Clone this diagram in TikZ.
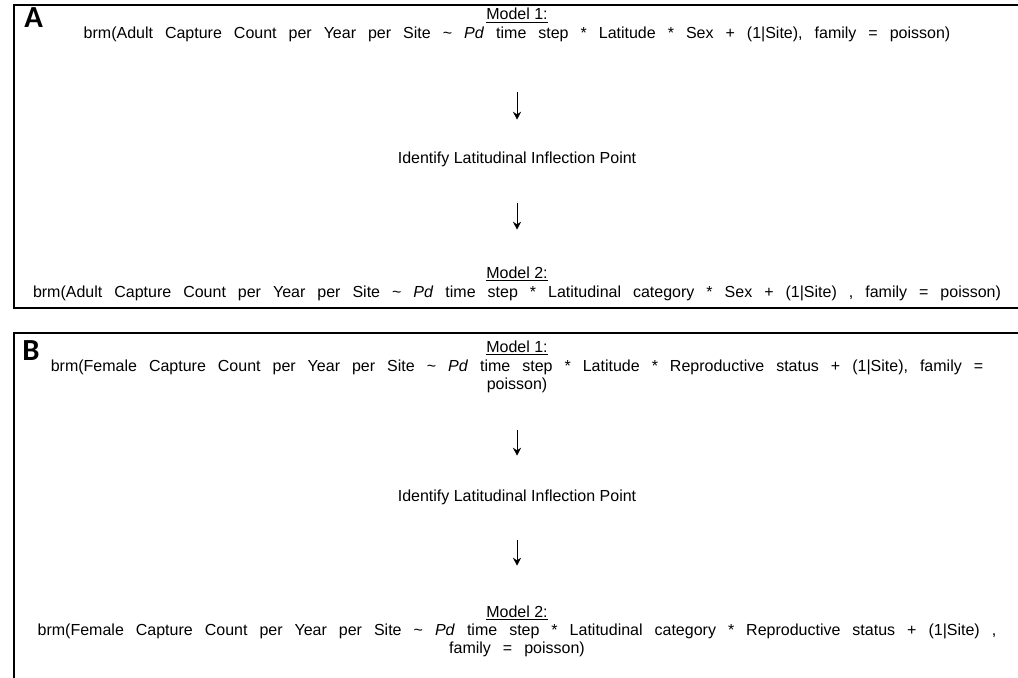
\documentclass[tikz,border=0pt]{standalone}
\usepackage{fontspec}
\setmainfont{Liberation Sans}
\newfontfamily\formulafont[WordSpace=2.7]{Liberation Sans}
\newfontfamily\panelfont{Carlito}
\usetikzlibrary{arrows.meta}

\tikzset{
  every node/.style={font=\fontsize{12}{13.2}\selectfont, align=center, anchor=base,
    inner sep=0pt, text height=9pt, text depth=3pt},
  formula/.style={font=\formulafont\fontsize{12}{13.2}\selectfont},
  panel/.style={draw, line width=1.6pt},
  tag/.style={font=\panelfont\bfseries\fontsize{23}{23}\selectfont, anchor=north west,
    text height=, text depth=},
  flow/.style={-{Stealth[length=6pt,width=6pt,inset=2pt]}, line width=0.75pt}
}

\begin{document}
\begin{tikzpicture}[x=0.75pt,y=-0.75pt]
  \useasboundingbox (0,0) rectangle (1018,678);
  \clip (0,0) rectangle (1018,678);

  % panels
  \draw[panel] (14,5) rectangle (1022,308);
  \draw[panel] (14,333) rectangle (1022,700);
  \node[tag] (tagA) at (24,7) {A};
  \node[tag] (tagB) at (22,340) {B};

  % panel A
  \node (labA1) at (517,20) {\underline{Model 1:}};
  \node[formula] (fA1) at (517,38) {brm(Adult Capture Count per Year per Site \textasciitilde{} \textit{Pd} time step * Latitude * Sex + (1|Site), family = poisson)};
  \node (idA) at (517,163) {Identify Latitudinal Inflection Point};
  \node (labA2) at (517,278) {\underline{Model 2:}};
  \node[formula] (fA2) at (517,297) {brm(Adult Capture Count per Year per Site \textasciitilde{} \textit{Pd} time step * Latitudinal category * Sex + (1|Site) , family = poisson)};

  % panel B (two-line nodes sit on the baseline of their last line)
  \node (labB1) at (517,352) {\underline{Model 1:}};
  \node[formula] (fB1) at (517,389) {brm(Female Capture Count per Year per Site \textasciitilde{} \textit{Pd} time step * Latitude * Reproductive status + (1|Site), family =\\ poisson)};
  \node (idB) at (517,501) {Identify Latitudinal Inflection Point};
  \node (labB2) at (517,617) {\underline{Model 2:}};
  \node[formula] (fB2) at (517,653) {brm(Female Capture Count per Year per Site \textasciitilde{} \textit{Pd} time step * Latitudinal category * Reproductive status + (1|Site) ,\\ family = poisson)};

  \begin{scope}[flow]
    \draw[shorten <=37.5pt, shorten >=23.25pt] (fA1) to (idA);
    \draw[shorten <=27pt, shorten >=27pt] (idA) to (labA2);
    \draw[shorten <=27.75pt, shorten >=24.75pt] (fB1) to (idB);
    \draw[shorten <=26.25pt, shorten >=29.25pt] (idB) to (labB2);
  \end{scope}
\end{tikzpicture}
\end{document}
